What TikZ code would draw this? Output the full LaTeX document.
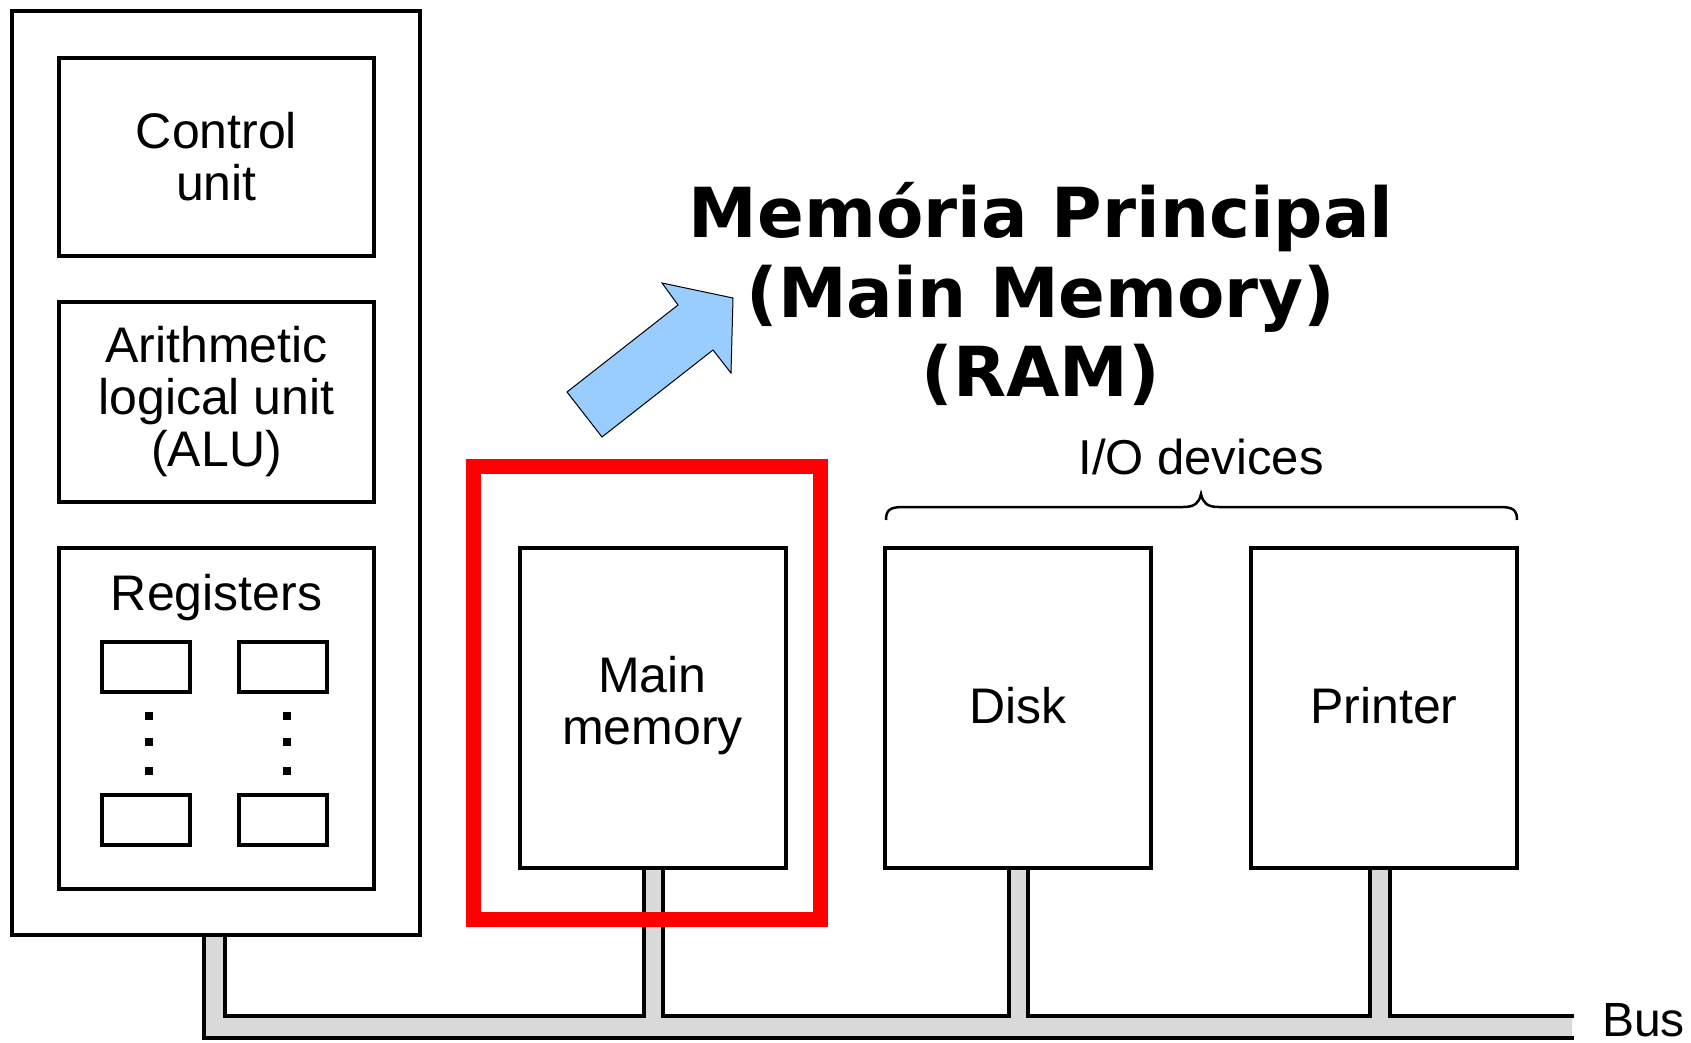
\documentclass[tikz,border=0pt]{standalone}
\usepackage{fontspec}
\setmainfont{Liberation Sans}
\newfontfamily\titlefont{DejaVu Sans}
\usetikzlibrary{calc}
\definecolor{arrowblue}{HTML}{99CCFF}
\definecolor{busgray}{HTML}{D9D9D9}
\newcommand\lbl{\fontsize{50}{52}\selectfont}
\tikzset{
  box/.style={draw, line width=4pt, inner sep=0pt, outer sep=0pt, align=center, font=\lbl},
  busline/.style={line width=4pt, line join=miter, line cap=rect},
  regbox/.style={draw, line width=4pt, inner sep=0pt, outer sep=0pt, minimum width=88pt, minimum height=50pt},
}
\begin{document}
\begin{tikzpicture}[x=1pt,y=-1pt]
\useasboundingbox (0,0) rectangle (1691,1043);

% boxes (named), positioned by centre
\node[box, minimum width=408pt, minimum height=924pt] (cpu) at (216,473) {};
\node[box, minimum width=266pt, minimum height=320pt, text depth=16pt] (mm) at (652.5,708) {Main\\memory};
\node[box, minimum width=266pt, minimum height=320pt, text depth=6pt] (disk) at (1018,708) {Disk};
\node[box, minimum width=266pt, minimum height=320pt, text depth=6pt] (prn) at (1384,708) {Printer};

% bus geometry
\coordinate (busT) at (0,1016);
\coordinate (busB) at (0,1038);
\coordinate (busE) at (1572,1016);
\coordinate (cL) at ($(cpu.south)+(-12,0)$);
\coordinate (cR) at ($(cpu.south)+(9,0)$);
\coordinate (mL) at ($(mm.south)+(-9,0)$);
\coordinate (mR) at ($(mm.south)+(10,0)$);
\coordinate (dL) at ($(disk.south)+(-9,0)$);
\coordinate (dR) at ($(disk.south)+(10,0)$);
\coordinate (pL) at ($(prn.south)+(-14,0)$);
\coordinate (pR) at ($(prn.south)+(6,0)$);

\fill[busgray] (cL) -- (cL|-busB) -- (busE|-busB) -- (busE) -- (pR|-busT) -- (pR) -- (pL) -- (pL|-busT)
  -- (dR|-busT) -- (dR) -- (dL) -- (dL|-busT) -- (mR|-busT) -- (mR) -- (mL) -- (mL|-busT)
  -- (cR|-busT) -- (cR) -- cycle;
\draw[busline] (cL) -- (cL|-busB) -- (busE|-busB);
\draw[busline] (cR) -- (cR|-busT) -- (mL|-busT) -- (mL);
\draw[busline] (mR) -- (mR|-busT) -- (dL|-busT) -- (dL);
\draw[busline] (dR) -- (dR|-busT) -- (pL|-busT) -- (pL);
\draw[busline] (pR) -- (pR|-busT) -- (busE);
\node[anchor=base west, inner sep=0pt, font=\fontsize{48}{50}\selectfont] (buslbl) at (1602,1036) {Bus};

% redraw box outlines over stems
\draw[line width=4pt] (cpu.south west) rectangle (cpu.north east);
\draw[line width=4pt] (mm.south west) rectangle (mm.north east);
\draw[line width=4pt] (disk.south west) rectangle (disk.north east);
\draw[line width=4pt] (prn.south west) rectangle (prn.north east);

% CPU parts
\node[box, minimum width=315pt, minimum height=198pt] (cu) at (216.5,157) {Control\\unit};
\node[box, minimum width=315pt, minimum height=200pt] (alu) at (216.5,402) {Arithmetic\\logical unit\\(ALU)};
\node[box, minimum width=315pt, minimum height=341pt] (reg) at (216.5,718.5) {};
\node[anchor=base, inner sep=0pt, font=\lbl] (regl) at (216.5,610) {Registers};
\node[regbox] (r1) at (146,667) {};
\node[regbox] (r2) at (282.5,667) {};
\node[regbox] (r3) at (146,820) {};
\node[regbox] (r4) at (282.5,820) {};
\foreach \yy in {716,742,771} {
  \fill (145,\yy-4) rectangle (153,\yy+4);
  \fill (283,\yy-4) rectangle (291,\yy+4);
}

% highlight
\node[draw=red, line width=15pt, inner sep=0pt, minimum width=347pt, minimum height=453pt] (hl) at (647,693) {};

% I/O brace and label
\draw[line width=2.5pt] (886,520) .. controls (886,510) and (890,507) .. (903,507) -- (1183,507)
  .. controls (1195,507) and (1199,503) .. (1201,494)
  .. controls (1203,503) and (1207,507) .. (1219,507) -- (1500,507)
  .. controls (1513,507) and (1517,510) .. (1517,520);
\node[anchor=base, inner sep=0pt, font=\fontsize{49}{50}\selectfont] (io) at (1201,474) {I/O devices};

% blue arrow
\draw[fill=arrowblue, line width=1pt, line join=miter] (567,392) -- (602,437) -- (713,350) -- (731,373) -- (733,298) -- (662,283) -- (678,305) -- cycle;

% title
\node[align=center, inner sep=0pt, font={\titlefont\fontsize{69}{79.5}\selectfont\bfseries}] (title) at (1041,294)
  {Memória Principal\\(Main Memory)\\(RAM)};
\end{tikzpicture}
\end{document}
